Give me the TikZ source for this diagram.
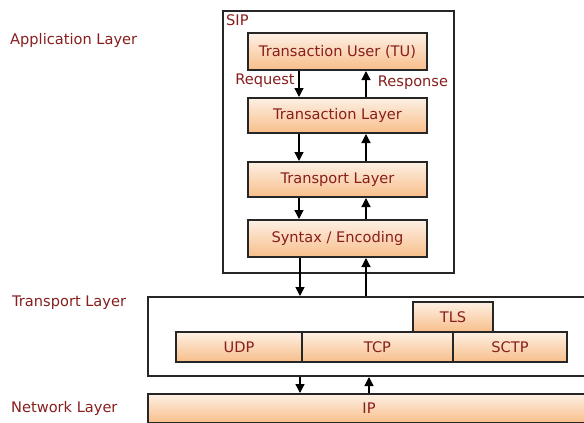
\documentclass[tikz,border=0pt]{standalone}
\usepackage{fontspec}
\setmainfont{DejaVu Sans}
\usetikzlibrary{arrows.meta}
\definecolor{txt}{RGB}{136,30,30}
\definecolor{ftop}{RGB}{253,240,228}
\definecolor{fbot}{RGB}{248,190,138}
\tikzset{
  lbl/.style={text=txt, font=\fontsize{14.6}{16}\selectfont, inner sep=0pt},
  layerbox/.style={draw=black!85, line width=2pt, top color=ftop, bottom color=fbot, text=txt,
    font=\fontsize{14.6}{16}\selectfont, inner sep=0pt},
  outerbox/.style={draw=black!85, line width=2pt, fill=white, inner sep=0pt},
  arr/.style={line width=1.3pt, -{Triangle[length=9pt,width=9pt]}},
}
\begin{document}
\begin{tikzpicture}[x=1pt,y=-1pt]
\clip (0,0) rectangle (584,423);
\fill[white] (0,0) rectangle (584,423);
% left labels
\node[lbl, anchor=west] (appl) at (10,40) {Application Layer};
\node[lbl, anchor=west] (tranl) at (12,303) {Transport Layer};
\node[lbl, anchor=west] (netl) at (11,408) {Network Layer};
% SIP box
\node[outerbox, anchor=north west, minimum width=231, minimum height=262] (sip) at (222,10) {};
\node[lbl, anchor=west] (siplbl) at (226,20) {SIP};
\node[layerbox, minimum width=179, minimum height=37] (tu) at (337.5,51.5) {Transaction User (TU)};
\node[layerbox, minimum width=179, minimum height=35] (tl) at (337.5,115.5) {Transaction Layer};
\node[layerbox, minimum width=179, minimum height=35] (trl) at (337.5,179.5) {Transport Layer};
\node[layerbox, minimum width=179, minimum height=37] (syn) at (337.5,238.5) {Syntax / Encoding};
% transport box
\node[outerbox, anchor=north west, minimum width=470, minimum height=79] (tbox) at (147,296) {};
\node[layerbox, minimum width=80, minimum height=30] (tls) at (453,317) {TLS};
\node[layerbox, minimum width=126, minimum height=30] (udp) at (239,347) {UDP};
\node[layerbox, minimum width=151, minimum height=30] (tcp) at (377.5,347) {TCP};
\node[layerbox, minimum width=114, minimum height=30] (sctp) at (510,347) {SCTP};
% IP
\node[layerbox, anchor=north west, minimum width=470, minimum height=29] (ipbox) at (147,393) {};
\node[lbl] (ip) at (369,408) {IP};
% arrow columns
\coordinate (dx) at (299,0);
\coordinate (ux) at (366,0);
\coordinate (dx2) at (300,0);
\coordinate (ux2) at (369,0);
\draw[arr] (tu.south -| dx) -- (tl.north -| dx);
\draw[arr] (tl.north -| ux) -- (tu.south -| ux);
\draw[arr] (tl.south -| dx) -- (trl.north -| dx);
\draw[arr] (trl.north -| ux) -- (tl.south -| ux);
\draw[arr] (trl.south -| dx) -- (syn.north -| dx);
\draw[arr] (syn.north -| ux) -- (trl.south -| ux);
\draw[arr] (syn.south -| dx2) -- (tbox.north -| dx2);
\draw[arr] (tbox.north -| ux) -- (syn.south -| ux);
\draw[arr] (tbox.south -| dx2) -- (ipbox.north -| dx2);
\draw[arr] (ipbox.north -| ux2) -- (tbox.south -| ux2);
\node[lbl] (req) at (265,81) {Request};
\node[lbl] (resp) at (413,83) {Response};
\end{tikzpicture}
\end{document}
